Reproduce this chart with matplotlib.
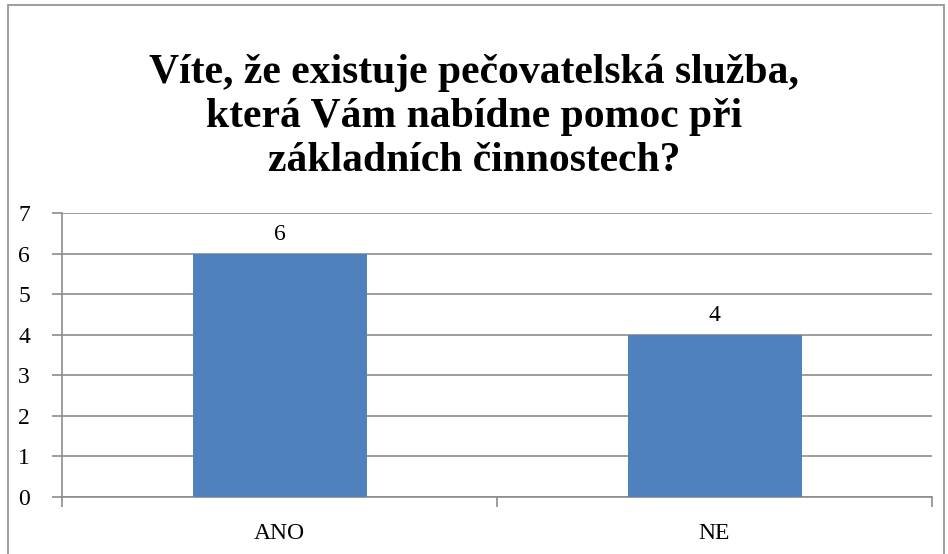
import matplotlib.pyplot as plt
from matplotlib.patches import Rectangle

# data
categories = ['ANO', 'NE']
values = [6, 4]
yticks = [0, 1, 2, 3, 4, 5, 6, 7]
title = 'Víte, že existuje pečovatelská služba,\nkterá Vám nabídne pomoc při\nzákladních činnostech?'

plt.rcParams['font.family'] = ['Liberation Serif', 'DejaVu Serif']

W, H = 948, 554
fig = plt.figure(figsize=(W / 100, H / 100), dpi=100)
ax = fig.add_axes([62 / W, (H - 497) / H, (932 - 62) / W, (497 - 213) / H])

# chart border
fig.patches.append(Rectangle((8 / W, -0.05), (944 - 8) / W, (H - 5) / H + 0.05,
                             transform=fig.transFigure, fill=False,
                             edgecolor='#8c8c8c', linewidth=1.2))

x = range(len(categories))
bars = ax.bar(x, values, width=0.4, color='#4f81bd', zorder=3)
for b, v in zip(bars, values):
    ax.text(b.get_x() + b.get_width() / 2, v + 0.22, str(v), ha='center',
            va='bottom', fontsize=17)

ax.set_xlim(-0.5, len(categories) - 0.5)
ax.set_ylim(0, 7)
ax.set_yticks(yticks)
ax.set_yticklabels([str(t) for t in yticks], fontsize=17)
ax.yaxis.grid(True, color='#8c8c8c', linewidth=1.2, zorder=0)

# category ticks on the boundaries
ax.set_xticks([-0.5, 0.5, 1.5])
ax.set_xticklabels([])
ax.set_xticks(list(x), minor=True)
ax.set_xticklabels(categories, minor=True, fontsize=17)
ax.tick_params(axis='x', which='minor', length=0, pad=19)
ax.tick_params(axis='x', which='major', length=7, color='#8c8c8c', width=1.2)
ax.tick_params(axis='y', length=7, color='#8c8c8c', width=1.2, pad=16)

for s in ['top', 'right']:
    ax.spines[s].set_visible(False)
for s in ['left', 'bottom']:
    ax.spines[s].set_color('#8c8c8c')
    ax.spines[s].set_linewidth(1.2)

fig.text(0.5, 1 - 117 / H, title, ha='center', va='center', fontsize=30,
         fontweight='bold', linespacing=1.22)

fig.savefig('out.png', dpi=100)
